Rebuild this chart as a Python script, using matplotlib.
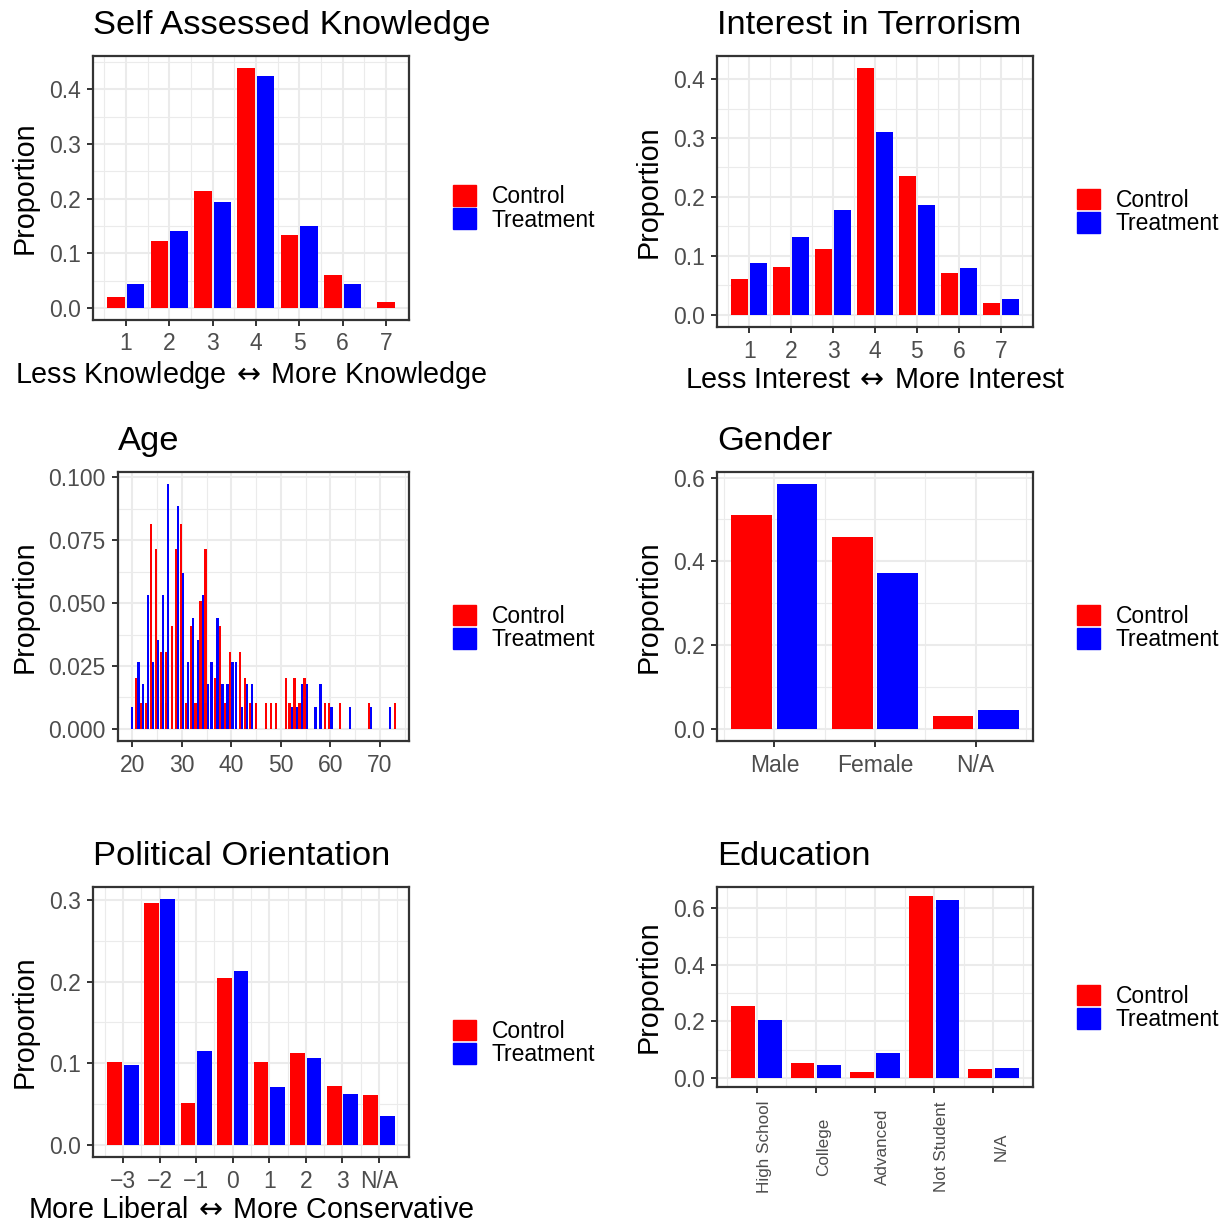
import numpy as np
import matplotlib
matplotlib.use('Agg')
import matplotlib.pyplot as plt
from matplotlib.patches import Patch
from matplotlib.ticker import MultipleLocator, AutoMinorLocator, FormatStrFormatter

plt.rcParams['font.family'] = ['Liberation Sans', 'DejaVu Sans']
plt.rcParams['mathtext.fontset'] = 'dejavusans'

# --- data (proportions per group) ---
knowledge_levels_c = [1, 2, 3, 4, 5, 6, 7]
knowledge_control = [0.0204, 0.1224, 0.2143, 0.4388, 0.1327, 0.0612, 0.0102]
knowledge_levels_t = [1, 2, 3, 4, 5, 6]
knowledge_treatment = [0.0442, 0.1416, 0.1947, 0.4248, 0.1504, 0.0442]

interest_levels = [1, 2, 3, 4, 5, 6, 7]
interest_control = [0.0612, 0.0816, 0.1122, 0.4184, 0.2347, 0.0714, 0.0204]
interest_treatment = [0.0885, 0.1327, 0.1770, 0.3097, 0.1858, 0.0796, 0.0265]

age_control_x = [21, 22, 23, 24, 25, 26, 27, 28, 29, 30, 31, 32, 33, 34, 35, 37, 38, 39,
                 40, 42, 43, 44, 45, 47, 48, 49, 51, 52, 53, 54, 55, 59, 60, 62, 68, 73]
age_control = [0.0204, 0.0102, 0.0102, 0.0816, 0.0714, 0.0306, 0.0306, 0.0408, 0.0714,
               0.0816, 0.0102, 0.0408, 0.0102, 0.0510, 0.0714, 0.0204, 0.0408, 0.0102,
               0.0306, 0.0306, 0.0204, 0.0102, 0.0102, 0.0102, 0.0102, 0.0102, 0.0204,
               0.0102, 0.0204, 0.0102, 0.0204, 0.0102, 0.0102, 0.0102, 0.0102, 0.0102]
age_treatment_x = [20, 21, 22, 23, 24, 25, 26, 27, 29, 30, 31, 32, 33, 34, 35, 36, 37,
                   38, 39, 40, 41, 42, 43, 44, 52, 53, 54, 55, 57, 58, 60, 64, 68, 72]
age_treatment = [0.0088, 0.0265, 0.0177, 0.0531, 0.0265, 0.0354, 0.0531, 0.0973, 0.0885,
                 0.0619, 0.0265, 0.0442, 0.0354, 0.0531, 0.0177, 0.0265, 0.0442, 0.0177,
                 0.0177, 0.0265, 0.0265, 0.0088, 0.0177, 0.0177, 0.0088, 0.0088, 0.0177,
                 0.0177, 0.0088, 0.0177, 0.0088, 0.0088, 0.0088, 0.0088]

gender_labels = ['Male', 'Female', 'N/A']
gender_control = [0.5102, 0.4592, 0.0306]
gender_treatment = [0.5841, 0.3717, 0.0442]

politics_labels = ['\u22123', '\u22122', '\u22121', '0', '1', '2', '3', 'N/A']
politics_control = [0.1020, 0.2959, 0.0510, 0.2041, 0.1020, 0.1122, 0.0714, 0.0612]
politics_treatment = [0.0973, 0.3009, 0.1150, 0.2124, 0.0708, 0.1062, 0.0619, 0.0354]

education_labels = ['High School', 'College', 'Advanced', 'Not Student', 'N/A']
education_control = [0.2551, 0.0510, 0.0204, 0.6429, 0.0306]
education_treatment = [0.2035, 0.0442, 0.0885, 0.6283, 0.0354]

RED, BLUE = '#FF0000', '#0000FF'
W = H = 1226
fig = plt.figure(figsize=(W / 100, H / 100), dpi=100)


def new_axes(l, t, r, b):
    return fig.add_axes([l / W, 1 - b / H, (r - l) / W, (b - t) / H])


def dodge_bars(ax, xc, yc, xt, yt, width=0.405):
    # like ggplot position_dodge2(preserve = "single")
    both = set(xc) & set(xt)
    pc = [x - 0.225 if x in both else x for x in xc]
    pt = [x + 0.225 if x in both else x for x in xt]
    ax.bar(pc, yc, width=width, color=RED, linewidth=0)
    ax.bar(pt, yt, width=width, color=BLUE, linewidth=0)
    ymax = max(max(yc), max(yt))
    ax.set_ylim(-0.05 * ymax, 1.05 * ymax)


def style(ax, title, xlabel, ystep, yfmt, leg_x, leg_y):
    ax.set_axisbelow(True)
    ax.grid(which='major', color='#EBEBEB', linewidth=1.5)
    ax.grid(which='minor', color='#EBEBEB', linewidth=0.8)
    for s in ax.spines.values():
        s.set_color('#333333')
        s.set_linewidth(1.6)
    ax.tick_params(which='major', length=4, width=1.4, color='#333333',
                   labelcolor='#4D4D4D', labelsize=16.5)
    ax.tick_params(which='minor', length=0)
    ax.tick_params(axis='x', pad=5)
    ax.tick_params(axis='y', pad=5)
    ax.yaxis.set_major_locator(MultipleLocator(ystep))
    ax.yaxis.set_minor_locator(AutoMinorLocator(2))
    ax.yaxis.set_major_formatter(FormatStrFormatter(yfmt))
    ax.set_ylabel('Proportion', fontsize=20.7, labelpad=7)
    if xlabel:
        ax.set_xlabel(xlabel, fontsize=20.7, labelpad=2.5)
    ax.set_title(title, loc='left', fontsize=24.8, pad=16)
    handles = [Patch(color=RED), Patch(color=BLUE)]
    ax.legend(handles, ['Control', 'Treatment'], loc='center left',
              bbox_to_anchor=(leg_x / W, 1 - leg_y / H), bbox_transform=fig.transFigure,
              frameon=False, fontsize=16.5, handlelength=1.0, handleheight=1.0,
              handletextpad=0.7, labelspacing=0.0, borderpad=0, borderaxespad=0)


ARROW = r'$\,\leftrightarrow\,$'

# --- Self Assessed Knowledge ---
ax1 = new_axes(93, 56, 409, 320)
dodge_bars(ax1, knowledge_levels_c, knowledge_control, knowledge_levels_t, knowledge_treatment)
ax1.xaxis.set_major_locator(MultipleLocator(1))
ax1.xaxis.set_minor_locator(AutoMinorLocator(2))
style(ax1, 'Self Assessed Knowledge', 'Less Knowledge' + ARROW + 'More Knowledge',
      0.1, '%.1f', 453, 208.5)

# --- Interest in Terrorism ---
ax2 = new_axes(717, 56, 1033, 327)
dodge_bars(ax2, interest_levels, interest_control, interest_levels, interest_treatment)
ax2.xaxis.set_major_locator(MultipleLocator(1))
ax2.xaxis.set_minor_locator(AutoMinorLocator(2))
style(ax2, 'Interest in Terrorism', 'Less Interest' + ARROW + 'More Interest',
      0.1, '%.1f', 1077, 212)

# --- Age ---
ax3 = new_axes(118, 472, 409, 741)
dodge_bars(ax3, age_control_x, age_control, age_treatment_x, age_treatment, width=0.45)
ax3.xaxis.set_major_locator(MultipleLocator(10))
ax3.xaxis.set_minor_locator(AutoMinorLocator(2))
style(ax3, 'Age', None, 0.025, '%.3f', 453, 628)

# --- Gender ---
ax4 = new_axes(717, 472, 1033, 741)
gx = list(range(1, len(gender_labels) + 1))
dodge_bars(ax4, gx, gender_control, gx, gender_treatment)
ax4.set_xticks(gx, gender_labels)
ax4.xaxis.set_minor_locator(AutoMinorLocator(2))
style(ax4, 'Gender', None, 0.2, '%.1f', 1077, 628)

# --- Political Orientation ---
ax5 = new_axes(93, 887, 409, 1157)
px = list(range(1, len(politics_labels) + 1))
dodge_bars(ax5, px, politics_control, px, politics_treatment)
ax5.set_xticks(px, politics_labels)
ax5.xaxis.set_minor_locator(AutoMinorLocator(2))
style(ax5, 'Political Orientation', 'More Liberal' + ARROW + 'More Conservative',
      0.1, '%.1f', 453, 1043)

# --- Education ---
ax6 = new_axes(717, 887, 1033, 1087)
ex = list(range(1, len(education_labels) + 1))
dodge_bars(ax6, ex, education_control, ex, education_treatment)
ax6.set_xticks(ex, education_labels, rotation=90, ha='left', va='center', fontsize=12.3)
ax6.xaxis.set_minor_locator(AutoMinorLocator(2))
style(ax6, 'Education', None, 0.2, '%.1f', 1077, 1008)
ax6.tick_params(axis='x', pad=39, labelsize=12.3)

fig.savefig('out.png', dpi=100)
